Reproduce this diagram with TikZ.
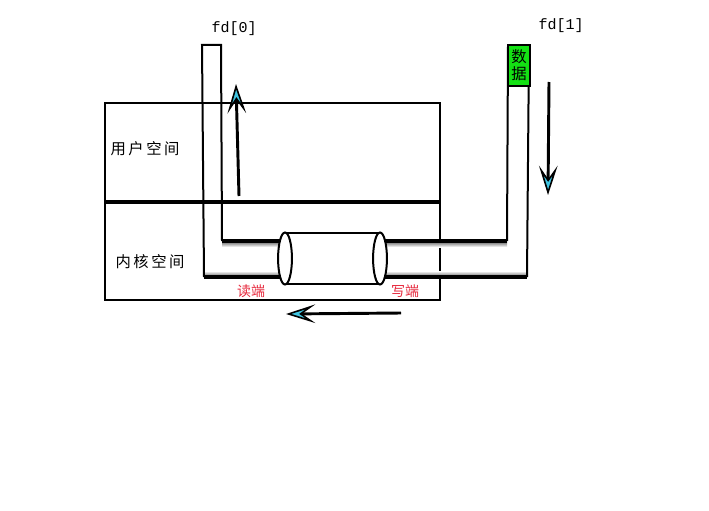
\documentclass[tikz,border=0pt]{standalone}
\usepackage{fontspec}
\setmonofont{Liberation Mono}
\newfontfamily\cjk{Noto Sans CJK SC}
\usetikzlibrary{arrows.meta}
\definecolor{arrowcyan}{RGB}{64,196,224}
\definecolor{endred}{RGB}{230,40,60}
\definecolor{datagreen}{RGB}{20,225,20}
\begin{document}
\begin{tikzpicture}[x=0.75pt,y=-0.75pt,line join=miter,
  boxline/.style={line width=1.5pt},
  pipev/.style={line width=1.5pt},
  pipeh/.style={line width=2.3pt},
  flow/.style={line width=2.2pt,-{Stealth[length=22pt,width=14pt,inset=10pt,fill=arrowcyan,line width=1.2pt]}},
  fdlabel/.style={font=\ttfamily\fontsize{11.25}{12}\selectfont},
  spacelabel/.style={font=\cjk\fontsize{11.5}{12}\selectfont},
  endlabel/.style={font=\cjk\fontsize{10.5}{12}\selectfont,text=endred}]
\useasboundingbox (0,0) rectangle (709,510);
% outer box and divider
\draw[boxline] (105,103) rectangle (440,300);
\draw[line width=2.3pt] (105,202) -- (440,202);
% coordinates of the pipe
\coordinate (l-in-top) at (221,45);
\coordinate (l-out-top) at (202,45);
\coordinate (l-in-corner) at (222,241);
\coordinate (l-out-corner) at (204,277);
\coordinate (cyl-l-top) at (285,241);
\coordinate (cyl-l-bot) at (285,277);
\coordinate (cyl-r-top) at (380,241);
\coordinate (cyl-r-bot) at (380,277);
\coordinate (r-in-corner) at (507,241);
\coordinate (r-out-corner) at (527,277);
\coordinate (r-in-top) at (508,45);
\coordinate (r-out-top) at (529,45);
% inner shadows
\shade[top color=black!55,bottom color=white] (222,242) rectangle (285,247);
\shade[bottom color=black!55,top color=white] (204,271) rectangle (285,276);
\shade[top color=black!55,bottom color=white] (380,242) rectangle (507,247);
\shade[bottom color=black!55,top color=white] (380,271) rectangle (527,276);
% left pipe
\draw[pipev] (l-in-corner) -- (l-in-top) -- (l-out-top) -- (l-out-corner);
\draw[pipeh] (l-in-corner) -- (cyl-l-top);
\draw[pipeh] (l-out-corner) -- (cyl-l-bot);
% right pipe
\draw[pipev] (r-in-corner) -- (r-in-top);
\draw[pipev] (r-out-top) -- (r-out-corner);
\draw[pipeh] (cyl-r-top) -- (r-in-corner);
\draw[pipeh] (cyl-r-bot) -- (r-out-corner);
% cylinder
\draw[line width=1.5pt,fill=white] (285,233) -- (380,233) -- (380,284) -- (285,284) -- cycle;
\draw[line width=1.5pt,fill=white] (285,258.5) ellipse [x radius=5.2pt,y radius=19.5pt];
\draw[line width=1.5pt,fill=white] (380,258.5) ellipse [x radius=5.2pt,y radius=19.5pt];
% data block
\node[draw,line width=1.5pt,fill=datagreen,minimum width=16pt,minimum height=30.5pt,inner sep=0pt,
  align=center,font=\cjk\fontsize{11.5}{12.5}\selectfont] (data) at (519,65.5) {数\\据};
% arrows
\coordinate (up-s) at (239,196);
\coordinate (up-e) at (236,84);
\coordinate (dn-s) at (549,82);
\coordinate (dn-e) at (548,195);
\coordinate (lf-s) at (401,313);
\coordinate (lf-e) at (286,314);
\draw[flow] (up-s) -- (up-e);
\draw[flow] (dn-s) -- (dn-e);
\draw[flow] (lf-s) -- (lf-e);
% labels
\node[fdlabel] (fd0) at (234,29) {fd[0]};
\node[fdlabel] (fd1) at (561,26) {fd[1]};
\node[spacelabel] (user) at (145,149) {用\,户\,空\,间};
\node[spacelabel] (kernel) at (150,262) {内\,核\,空\,间};
\node[endlabel] (rd) at (251,291) {读端};
\node[endlabel] (wr) at (405,291) {写端};
\end{tikzpicture}
\end{document}
